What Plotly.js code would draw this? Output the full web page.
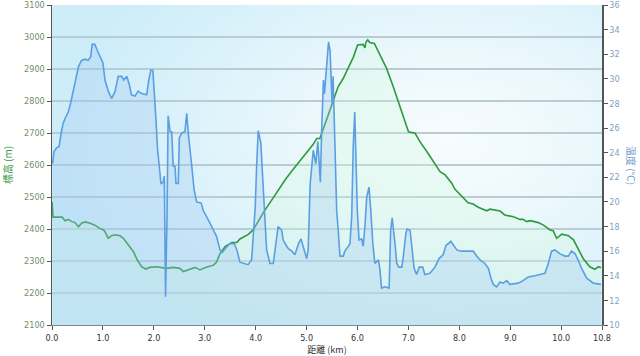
<!DOCTYPE html>
<html>
<head>
<meta charset="utf-8">
<script src="https://cdn.plot.ly/plotly-3.0.1.min.js"></script>
<style>
  html, body { margin: 0; padding: 0; background: #ffffff; }
  #wrap { position: relative; width: 640px; height: 356px; }
  #bg { position: absolute; left: 52px; top: 5px; width: 550px; height: 320px;
        background: radial-gradient(ellipse 70% 75% at 72% 42%, #f7fcfe 0%, #ecf8fc 35%, #d8f1fa 75%, #cdedf9 100%); }
  #chart { position: absolute; left: 0; top: 0; width: 640px; height: 356px; }
</style>
</head>
<body>
<div id="wrap"><div id="bg"></div><div id="chart"></div></div>
<script>
// Elevation profile (m) vs distance (km)
const elevDistance = [0, 0.02, 0.2, 0.255, 0.32, 0.39, 0.45, 0.52, 0.58, 0.65, 0.75, 0.84, 0.94, 1.01, 1.04, 1.105, 1.17, 1.24, 1.335, 1.40,
  1.50, 1.60, 1.675, 1.76, 1.84, 1.92, 2.055, 2.185, 2.25, 2.38, 2.51, 2.58, 2.71, 2.81, 2.905, 3.0, 3.17, 3.23, 3.30, 3.40,
  3.53, 3.63, 3.69, 3.855, 3.95, 4.05, 4.18, 4.38, 4.575, 4.71, 4.835, 4.97, 5.13, 5.20, 5.26, 5.39, 5.52, 5.62, 5.72, 5.82,
  5.92, 6.0, 6.11, 6.145, 6.165, 6.20, 6.24, 6.33, 6.44, 6.57, 6.70, 6.83, 7.0, 7.13, 7.225, 7.36, 7.49, 7.62, 7.72, 7.85,
  7.91, 8.01, 8.17, 8.27, 8.37, 8.535, 8.60, 8.80, 8.89, 9.06, 9.19, 9.25, 9.32, 9.39, 9.55, 9.65, 9.78, 9.84, 9.91, 10.01,
  10.14, 10.24, 10.33, 10.43, 10.56, 10.66, 10.73, 10.78];
const elevation = [2485, 2437, 2437, 2426, 2430, 2423, 2420, 2407, 2418, 2422, 2418, 2412, 2402, 2397, 2392, 2371, 2379, 2382, 2379, 2371,
  2350, 2329, 2303, 2282, 2275, 2280, 2282, 2280, 2277, 2280, 2277, 2267, 2275, 2280, 2272, 2279, 2287, 2296, 2324, 2345,
  2358, 2358, 2369, 2383, 2397, 2423, 2459, 2506, 2553, 2581, 2605, 2631, 2665, 2683, 2683, 2741, 2798, 2845, 2871, 2902,
  2938, 2975, 2977, 2966, 2984, 2991, 2983, 2980, 2944, 2902, 2845, 2782, 2704, 2699, 2673, 2642, 2610, 2579, 2569, 2543,
  2525, 2508, 2482, 2478, 2468, 2457, 2462, 2456, 2444, 2438, 2430, 2430, 2423, 2426, 2420, 2412, 2397, 2395, 2371, 2384,
  2379, 2366, 2340, 2308, 2282, 2274, 2282, 2279];

// Temperature (°C) vs distance (km)
const tempDistance = [0.01, 0.04, 0.09, 0.14, 0.18, 0.22, 0.27, 0.32, 0.37, 0.42, 0.47, 0.52, 0.58, 0.65, 0.71, 0.76, 0.79, 0.84, 0.89, 0.94,
  1.0, 1.04, 1.105, 1.17, 1.24, 1.30, 1.37, 1.41, 1.47, 1.52, 1.56, 1.63, 1.69, 1.76, 1.86, 1.90, 1.94, 1.98, 2.0, 2.04,
  2.07, 2.12, 2.14, 2.185, 2.205, 2.23, 2.26, 2.28, 2.32, 2.35, 2.38, 2.415, 2.435, 2.48, 2.50, 2.55, 2.61, 2.645, 2.68, 2.74,
  2.79, 2.84, 2.93, 2.97, 3.04, 3.10, 3.17, 3.23, 3.30, 3.34, 3.40, 3.49, 3.58, 3.63, 3.69, 3.76, 3.85, 3.92, 3.95, 3.99,
  4.02, 4.05, 4.10, 4.13, 4.17, 4.215, 4.28, 4.345, 4.39, 4.44, 4.51, 4.54, 4.595, 4.64, 4.71, 4.77, 4.80, 4.84, 4.89, 4.93,
  5.0, 5.03, 5.07, 5.13, 5.18, 5.22, 5.25, 5.27, 5.295, 5.33, 5.35, 5.37, 5.405, 5.43, 5.46, 5.48, 5.50, 5.52, 5.54, 5.56,
  5.59, 5.62, 5.655, 5.72, 5.75, 5.82, 5.85, 5.885, 5.915, 5.945, 5.97, 5.995, 6.03, 6.08, 6.11, 6.145, 6.18, 6.225, 6.26, 6.30,
  6.34, 6.41, 6.44, 6.47, 6.54, 6.62, 6.65, 6.68, 6.735, 6.77, 6.81, 6.87, 6.90, 6.95, 6.975, 7.03, 7.06, 7.11, 7.16, 7.21,
  7.28, 7.32, 7.42, 7.52, 7.60, 7.68, 7.74, 7.78, 7.83, 7.88, 7.95, 8.04, 8.27, 8.34, 8.40, 8.50, 8.57, 8.62, 8.665, 8.73,
  8.80, 8.86, 8.93, 8.99, 9.155, 9.25, 9.35, 9.48, 9.615, 9.68, 9.745, 9.81, 9.875, 9.97, 10.07, 10.14, 10.20, 10.27, 10.33, 10.40,
  10.50, 10.56, 10.63, 10.78];
const temperature = [23.1, 24.1, 24.4, 24.5, 25.6, 26.4, 26.9, 27.3, 28.1, 29.0, 29.9, 31.0, 31.5, 31.6, 31.5, 31.8, 32.8, 32.8, 32.3, 31.9,
  31.3, 29.9, 29.0, 28.4, 29.0, 30.2, 30.2, 29.9, 30.2, 29.5, 28.7, 28.6, 29.0, 28.8, 28.7, 29.9, 30.7, 30.7, 29.5, 26.8,
  24.4, 22.3, 21.5, 21.6, 22.1, 12.3, 19.1, 27.0, 25.7, 25.7, 22.9, 22.9, 21.5, 21.5, 25.2, 25.6, 25.7, 27.2, 25.4, 23.1,
  21.0, 20.0, 19.9, 19.3, 18.8, 18.3, 17.7, 17.2, 16.1, 15.9, 16.2, 16.6, 16.6, 16.1, 15.1, 15.0, 14.9, 15.3, 16.9, 19.5,
  23.1, 25.8, 24.8, 22.3, 18.8, 16.1, 15.0, 15.0, 16.4, 18.0, 17.7, 16.9, 16.5, 16.2, 16.0, 15.7, 16.1, 16.6, 17.0, 16.4,
  15.4, 16.1, 21.5, 24.2, 23.1, 24.9, 23.1, 21.6, 25.8, 29.9, 28.8, 29.9, 31.5, 33.0, 32.3, 30.7, 28.0, 30.2, 27.2, 23.1,
  19.3, 17.7, 15.6, 15.6, 16.0, 16.4, 16.6, 18.8, 24.5, 27.3, 24.0, 19.3, 16.9, 17.0, 16.4, 18.0, 20.4, 21.2, 19.3, 16.6,
  15.0, 15.3, 14.5, 13.0, 13.1, 13.0, 17.7, 18.7, 16.6, 15.0, 14.7, 14.7, 15.6, 17.5, 17.8, 17.7, 16.6, 14.6, 14.1, 14.7,
  14.7, 14.1, 14.2, 14.7, 15.4, 15.7, 16.5, 16.6, 16.8, 16.5, 16.1, 16.0, 16.0, 15.6, 15.3, 15.0, 14.6, 13.8, 13.3, 13.1,
  13.5, 13.4, 13.6, 13.3, 13.4, 13.6, 13.9, 14.0, 14.1, 14.2, 15.0, 16.0, 16.1, 15.8, 15.6, 15.6, 16.0, 15.8, 15.3, 14.6,
  13.8, 13.6, 13.4, 13.3];

const xTickVals = [0, 1, 2, 3, 4, 5, 6, 7, 8, 9, 10, 10.8];
const xTickText = ['0.0', '1.0', '2.0', '3.0', '4.0', '5.0', '6.0', '7.0', '8.0', '9.0', '10.0', '10.8'];
const elevTickVals = [2100, 2200, 2300, 2400, 2500, 2600, 2700, 2800, 2900, 3000, 3100];
const tempTickVals = [10, 12, 14, 16, 18, 20, 22, 24, 26, 28, 30, 32, 34, 36];

const tickFont = { family: 'DejaVu Sans Condensed, DejaVu Sans, sans-serif', size: 9 };
const cjkFont = 'Noto Sans CJK JP, DejaVu Sans, sans-serif';

const traces = [
  {
    x: elevDistance, y: elevation, type: 'scatter', mode: 'lines', name: '標高',
    line: { color: '#2e9a3c', width: 1.6 },
    fill: 'tozeroy', fillcolor: 'rgba(212,250,224,0.32)', yaxis: 'y', hoverinfo: 'skip'
  },
  {
    x: tempDistance, y: temperature, type: 'scatter', mode: 'lines', name: '温度',
    line: { color: '#5a9fe2', width: 1.6 },
    fill: 'tozeroy', fillcolor: 'rgba(160,200,242,0.3)', yaxis: 'y2', hoverinfo: 'skip'
  }
];

const layout = {
  width: 640, height: 356,
  margin: { l: 52, r: 38, t: 5, b: 31, pad: 0 },
  paper_bgcolor: 'rgba(0,0,0,0)',
  plot_bgcolor: 'rgba(0,0,0,0)',
  showlegend: false,
  xaxis: {
    range: [0, 10.8], tickvals: xTickVals, ticktext: xTickText,
    showgrid: false, zeroline: false,
    showline: true, linecolor: '#7a8a90', linewidth: 1,
    ticks: 'outside', ticklen: 4, tickcolor: '#555',
    tickfont: Object.assign({ color: '#333' }, tickFont),
    title: { text: '距離 (km)', font: { family: cjkFont, size: 9, color: '#333' }, standoff: 1 }
  },
  yaxis: {
    range: [2100, 3100], tickvals: elevTickVals,
    showgrid: true, gridcolor: '#b9cbd3', gridwidth: 1.5, zeroline: false,
    showline: true, linecolor: '#555', linewidth: 1.5,
    ticks: 'outside', ticklen: 4, tickcolor: '#555',
    tickfont: Object.assign({ color: '#6e8f6e' }, tickFont),
    title: { text: '標高 (m)', font: { family: cjkFont, size: 10, color: '#3a9a44' }, standoff: 11 }
  },
  yaxis2: {
    range: [10, 36], tickvals: tempTickVals, overlaying: 'y', side: 'right',
    showgrid: false, zeroline: false,
    showline: true, linecolor: '#555', linewidth: 1.5,
    ticks: 'outside', ticklen: 4, tickcolor: '#555',
    tickfont: Object.assign({ color: '#7f9fc0' }, tickFont)
  },
  annotations: [
    { text: '温度 (°C)', xref: 'paper', yref: 'paper', x: 1.0, xshift: 30, y: 0.5,
      textangle: 90, showarrow: false, xanchor: 'center', yanchor: 'middle',
      font: { family: cjkFont, size: 10, color: '#6f9cc8' } }
  ]
};

Plotly.newPlot('chart', traces, layout, { displayModeBar: false, staticPlot: true });
</script>
</body>
</html>
